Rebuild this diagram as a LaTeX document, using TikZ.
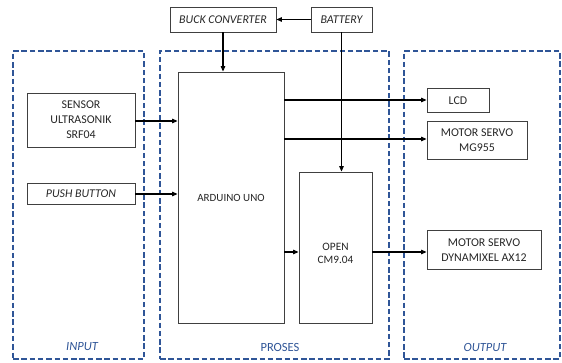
\documentclass[tikz,border=0pt]{standalone}
\usepackage{fontspec}
\setmainfont{Carlito}
\usetikzlibrary{arrows.meta}
\definecolor{dblue}{HTML}{2F5597}
\begin{document}
\begin{tikzpicture}[x=1pt,y=-1pt,
 blk/.style={draw=black!75, line width=0.8pt, inner sep=0pt, align=center, font=\fontsize{11.9}{15}\selectfont, text=black!85},
 grp/.style={draw=dblue, line width=1.8pt, dash pattern=on 5.5pt off 2.8pt, inner sep=0pt},
 lbl/.style={text=dblue, font=\fontsize{12.5}{14}\selectfont, inner sep=0pt},
 arr/.style={line width=1.1pt, -{Triangle[length=5.5pt,width=4.5pt]}}]
\useasboundingbox (0,0) rectangle (562,362);
% groups
\node[grp, minimum width=131pt, minimum height=308pt] (gin) at (78.5,205) {};
\node[grp, minimum width=229pt, minimum height=308pt] (gpr) at (274.5,205) {};
\node[grp, minimum width=156pt, minimum height=308pt] (gout) at (482,205) {};
\node[lbl, font=\fontsize{12.5}{14}\selectfont\itshape] (lin) at (82,347) {INPUT};
\node[lbl] (lpr) at (280,347) {PROSES};
\node[lbl, font=\fontsize{12.5}{14}\selectfont\itshape] (lout) at (485,347) {OUTPUT};
% blocks
\node[blk, minimum width=106pt, minimum height=25pt] (buck) at (223,19.5) {\itshape BUCK CONVERTER};
\node[blk, minimum width=61pt, minimum height=25pt] (bat) at (341.5,19.5) {\itshape BATTERY};
\node[blk, minimum width=108pt, minimum height=54pt] (sen) at (81,120) {SENSOR\\ULTRASONIK\\SRF04};
\node[blk, minimum width=108pt, minimum height=21pt] (push) at (81,193.5) {\itshape PUSH BUTTON};
\node[blk, minimum width=106pt, minimum height=251pt, font=\fontsize{11}{14}\selectfont] (ard) at (231,197.5) {ARDUINO UNO};
\node[blk, minimum width=73pt, minimum height=151pt] (ocm) at (335.5,247.5) {};
\node[blk, draw=none, font=\fontsize{11.3}{13.5}\selectfont] (ocmt) at (335.5,253.5) {OPEN\\CM9.04};
\node[blk, minimum width=62pt, minimum height=24pt] (lcd) at (458,100.5) {LCD};
\node[blk, minimum width=100pt, minimum height=38pt] (mg) at (477,140) {MOTOR SERVO\\MG955};
\node[blk, minimum width=114pt, minimum height=39pt] (dyn) at (484,250) {MOTOR SERVO\\DYNAMIXEL AX12};
\coordinate (ylcd) at (0,100);
\coordinate (ymg) at (0,139);
\coordinate (yocm) at (0,252);
\coordinate (ysen) at (0,121);
\coordinate (ypush) at (0,194);
% connectors
\draw[arr] (bat.west) -- (buck.east);
\draw[arr] (buck.south) -- (buck.south |- ard.north);
\draw[arr] (bat.south) -- (bat.south |- ocm.north);
\draw[arr] (sen.east |- ysen) -- (ard.west |- ysen);
\draw[arr] (push.east |- ypush) -- (ard.west |- ypush);
\draw[arr] (ard.east |- ylcd) -- (lcd.west |- ylcd);
\draw[arr] (ard.east |- ymg) -- (mg.west |- ymg);
\draw[arr] (ard.east |- yocm) -- (ocm.west |- yocm);
\draw[arr] (ocm.east |- yocm) -- (dyn.west |- yocm);
\end{tikzpicture}
\end{document}
